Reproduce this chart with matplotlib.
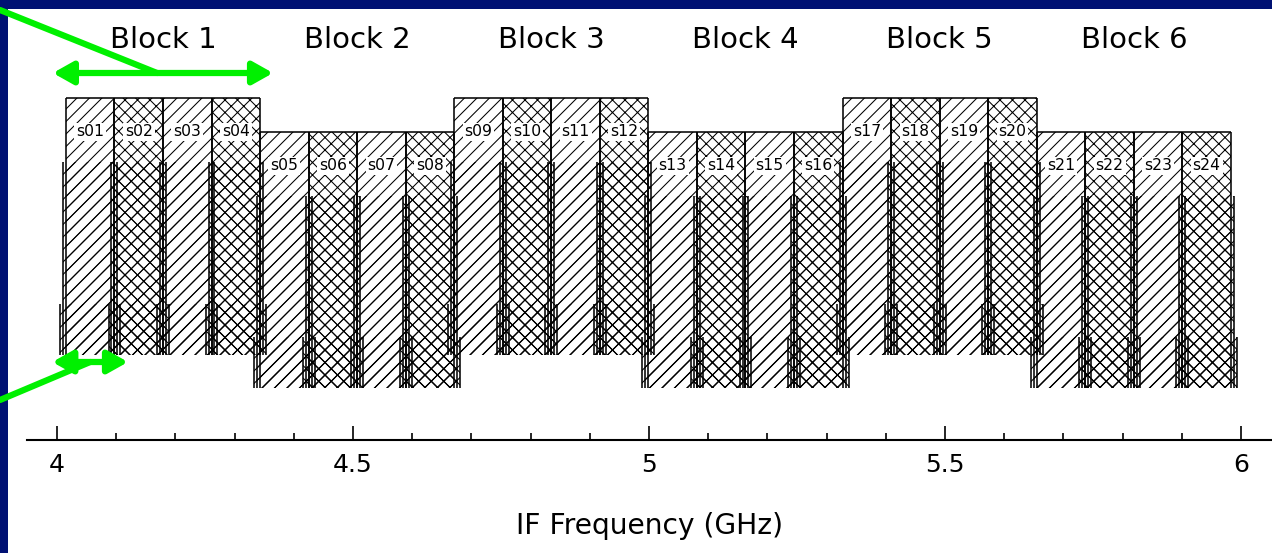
import numpy as np
import matplotlib
matplotlib.use("Agg")
import matplotlib.pyplot as plt
from matplotlib.patches import Rectangle
from matplotlib.ticker import FixedLocator, MultipleLocator

# correlator layout: 6 blocks of 4 chunks across the 4-6 GHz IF band
block_labels = ["Block 1", "Block 2", "Block 3", "Block 4", "Block 5", "Block 6"]
block_raised = [True, False, True, False, True, False]

chunk_labels = [f"s{i:02d}" for i in range(1, 25)]
chunk_centers = [4.056, 4.138, 4.220, 4.302, 4.384, 4.466, 4.548, 4.630,
                 4.712, 4.794, 4.876, 4.958, 5.040, 5.122, 5.204, 5.286,
                 5.368, 5.450, 5.532, 5.614, 5.696, 5.778, 5.860, 5.942]
chunk_width = 0.082            # GHz, nominal chunk spacing
chunk_skirts = [0.0, 0.005, 0.010]   # GHz added per side lower down

major_ticks = [4.0, 4.5, 5.0, 5.5, 6.0]
major_labels = ["4", "4.5", "5", "5.5", "6"]

W, H, DPI = 1272, 553, 150
NAVY = "#001173"
GREEN = "#00f000"

plt.rcParams["font.family"] = ["DejaVu Sans"]
plt.rcParams["hatch.linewidth"] = 0.5

fig = plt.figure(figsize=(W / DPI, H / DPI), dpi=DPI)
fig.patch.set_facecolor("white")

# axes: bottom spine sits at pixel row 440, y runs in pixel rows downward
ax = fig.add_axes([27 / W, 113 / H, 1 - 27 / W, 440 / H])
px_per_ghz = 592.0
ax.set_xlim(4 - 30 / px_per_ghz, 4 + 1215 / px_per_ghz)
ax.set_ylim(440, 0)
ax.patch.set_visible(False)
for side in ("left", "right", "top"):
    ax.spines[side].set_visible(False)
ax.spines["bottom"].set_linewidth(1.0)
ax.set_yticks([])

ax.xaxis.set_major_locator(FixedLocator(major_ticks))
ax.set_xticklabels(major_labels)
ax.xaxis.set_minor_locator(MultipleLocator(0.1))
ax.tick_params(axis="x", which="major", direction="in", length=6.7,
               width=0.8, pad=6, labelsize=12)
ax.tick_params(axis="x", which="minor", direction="in", length=3.4,
               width=0.8)
ax.set_xlabel("IF Frequency (GHz)", fontsize=13.5, labelpad=17)


def block_rows(raised):
    # top, bottom rows of a block's chunks
    return (98, 355) if raised else (132, 388)


for i, (c, name) in enumerate(zip(chunk_centers, chunk_labels)):
    b = i // 4
    top, bottom = block_rows(block_raised[b])
    height = bottom - top
    hatch = "////" if i % 2 == 0 else "xxxx"
    starts = [top, top + 0.25 * height, top + 0.8 * height]
    for skirt, y0 in zip(chunk_skirts, starts):
        half = chunk_width / 2 + skirt
        ax.add_patch(Rectangle((c - half, y0), 2 * half, bottom - y0,
                               fill=False, edgecolor="black", lw=0,
                               hatch=hatch, zorder=2))
        ax.vlines([c - half, c + half], y0, bottom, color="black",
                  lw=0.75, zorder=3)
    ax.hlines(top, c - chunk_width / 2, c + chunk_width / 2, color="black",
              lw=0.75, zorder=3)
    ax.text(c, top + 34, name, ha="center", va="center", fontsize=7.5,
            zorder=4,
            bbox=dict(boxstyle="square,pad=0.12", fc="white", ec="none"))

for b, label in enumerate(block_labels):
    block_centre = np.mean(chunk_centers[4 * b:4 * b + 4])
    ax.text(block_centre, 40, label, ha="center", va="center", fontsize=14)

# green call-outs: whole block and a single chunk
arrow_style = "<|-|>,head_length=8,head_width=4.5"
b1_lo = chunk_centers[0] - chunk_width / 2
b1_hi = chunk_centers[3] + chunk_width / 2
ax.annotate("", xy=(b1_lo - 0.022, 73), xytext=(b1_hi + 0.022, 73),
            arrowprops=dict(arrowstyle=arrow_style, color=GREEN, lw=3,
                            shrinkA=0, shrinkB=0, mutation_scale=1),
            annotation_clip=False, zorder=6)
ax.annotate("", xy=(chunk_centers[0] - 0.064, 362),
            xytext=(chunk_centers[0] + 0.064, 362),
            arrowprops=dict(arrowstyle=arrow_style, color=GREEN, lw=3,
                            shrinkA=0, shrinkB=0, mutation_scale=1),
            annotation_clip=False, zorder=6)
ax.annotate("", xy=((b1_lo + b1_hi) / 2 - 0.01, 73),
            xytext=(0, 1 - 10 / H), textcoords="figure fraction",
            arrowprops=dict(arrowstyle="-", color=GREEN, lw=3,
                            shrinkA=0, shrinkB=0),
            annotation_clip=False, zorder=6)
ax.annotate("", xy=(chunk_centers[0], 362),
            xytext=(0, 1 - 400 / H), textcoords="figure fraction",
            arrowprops=dict(arrowstyle="-", color=GREEN, lw=3,
                            shrinkA=0, shrinkB=0),
            annotation_clip=False, zorder=6)

# slide frame
fig.patches.append(Rectangle((0, 0), 8 / W, 1, transform=fig.transFigure,
                             fc=NAVY, ec="none", zorder=-1))
fig.patches.append(Rectangle((0, 1 - 9 / H), 1, 9 / H,
                             transform=fig.transFigure, fc=NAVY, ec="none",
                             zorder=-1))

fig.savefig("out.png", dpi=DPI)
